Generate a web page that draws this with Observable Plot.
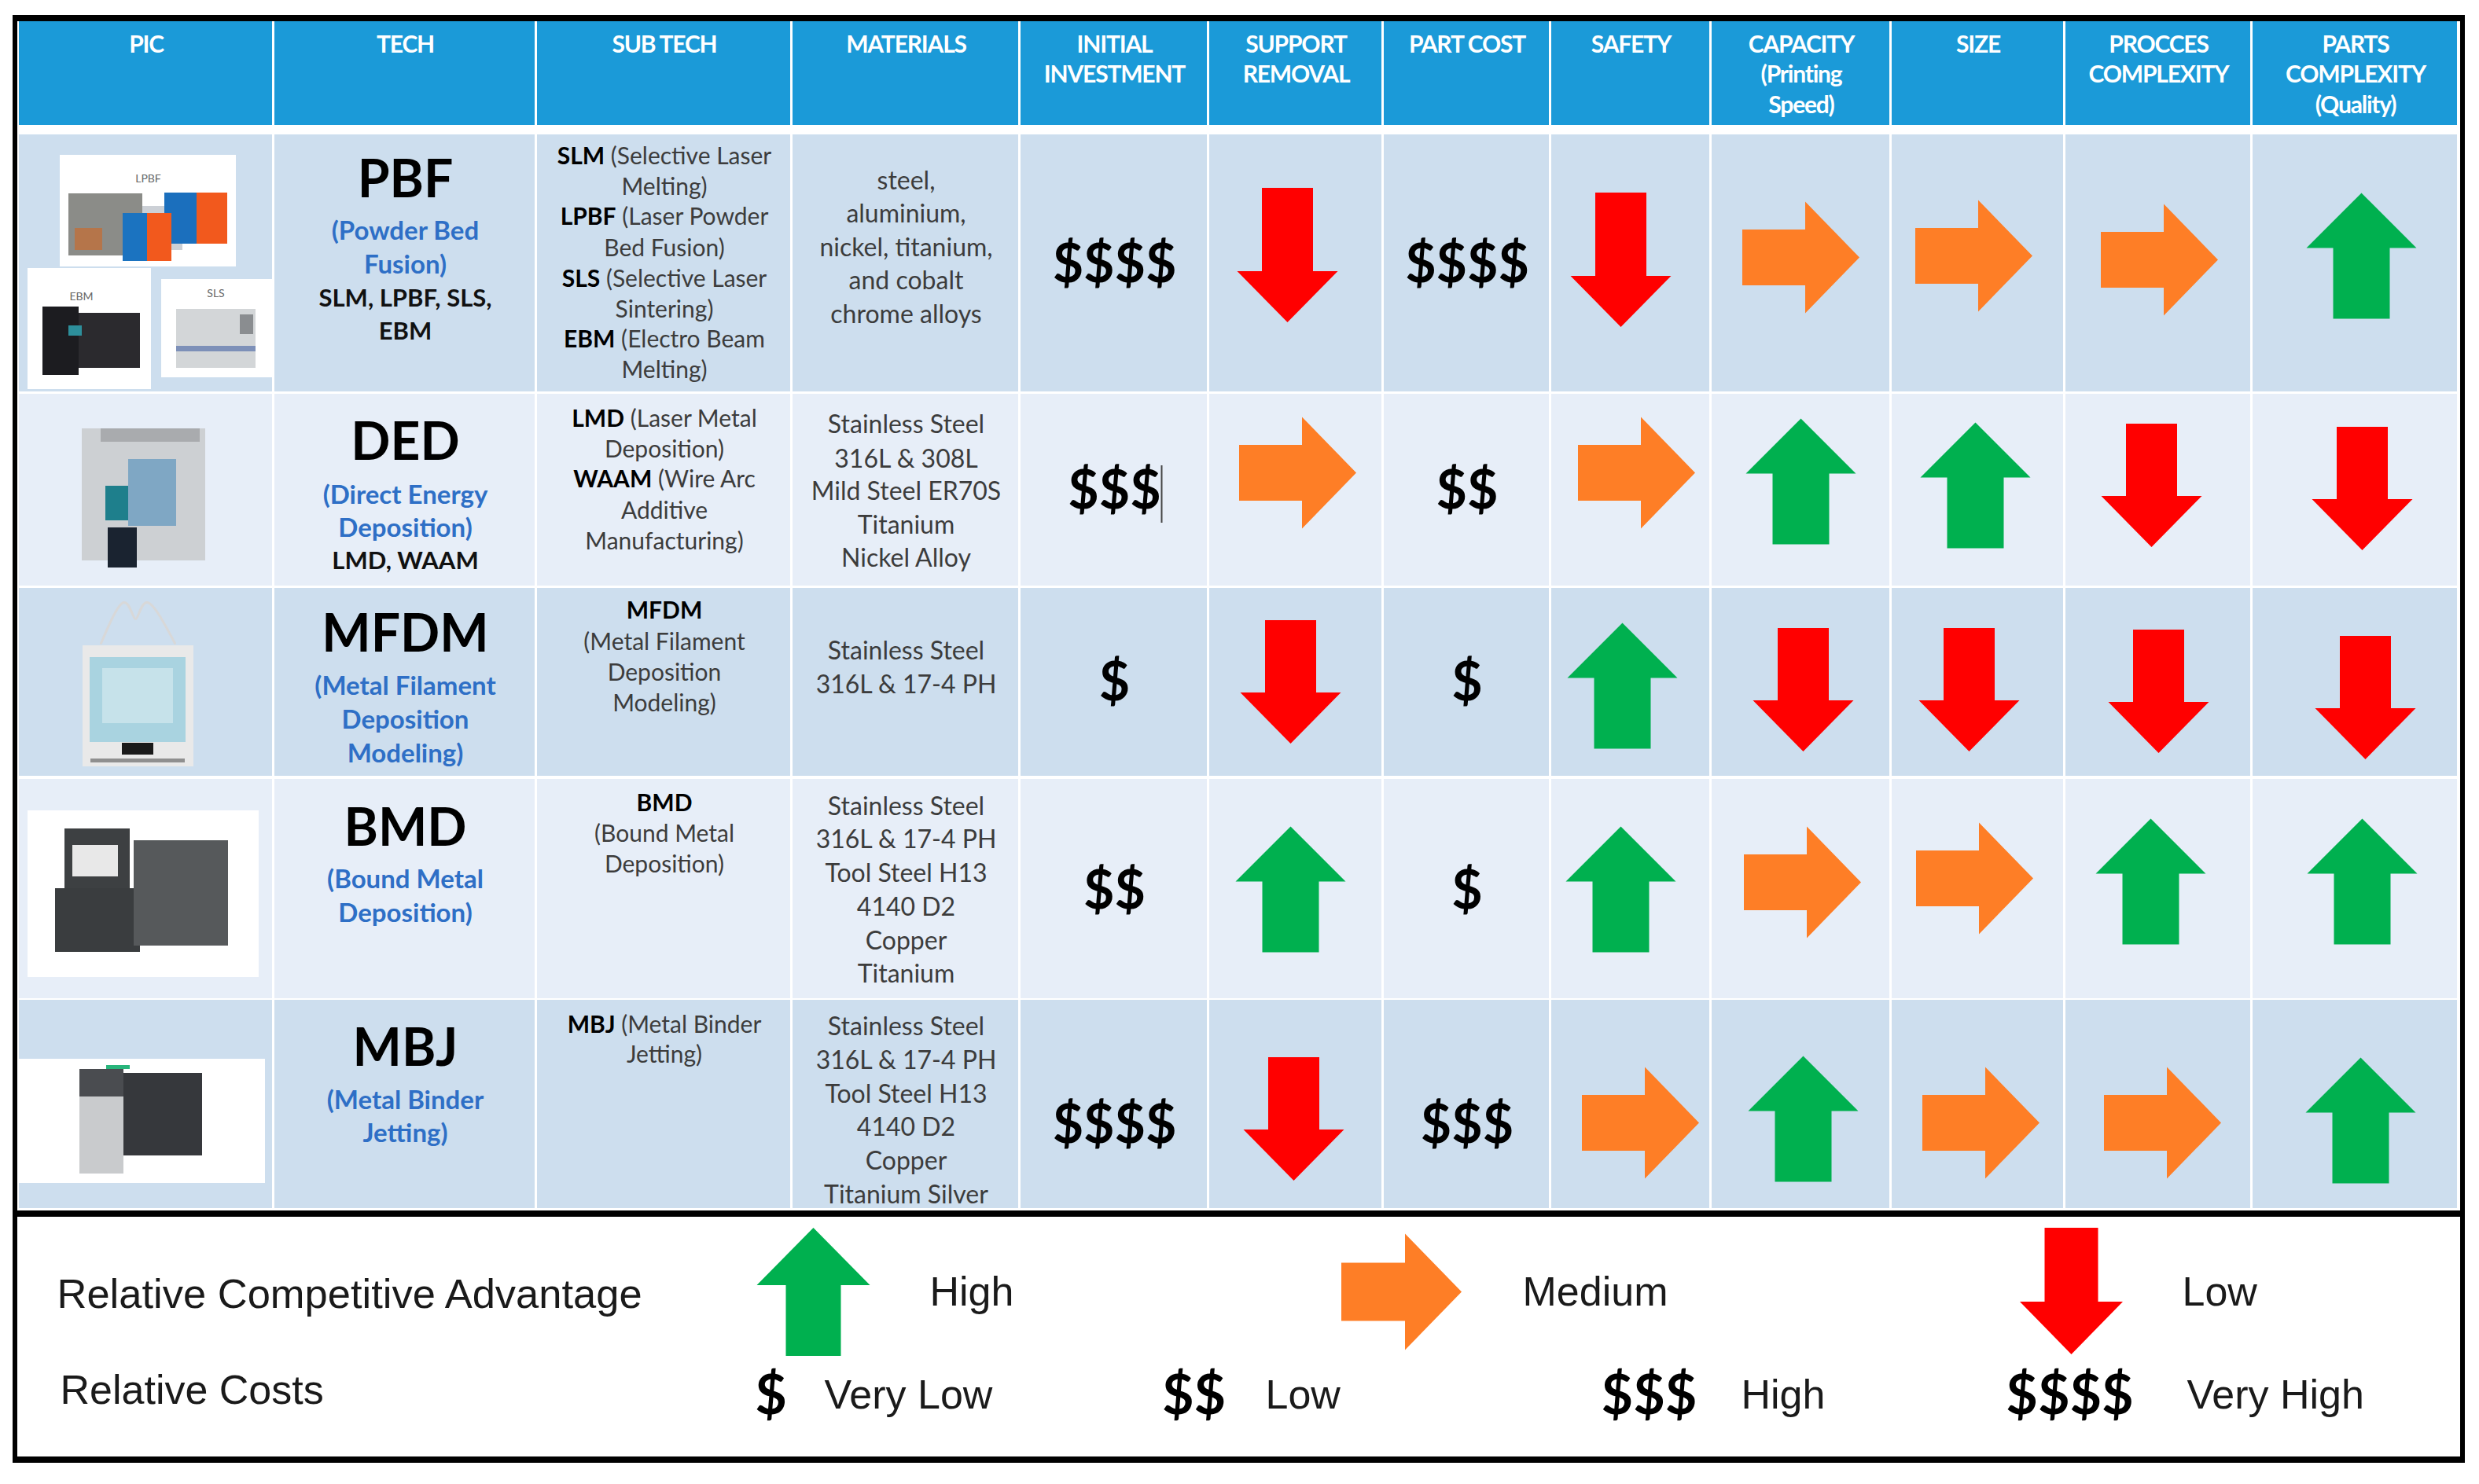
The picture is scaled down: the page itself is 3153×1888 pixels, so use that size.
<!DOCTYPE html>
<html>
<head>
<meta charset="utf-8">
<script src="https://cdn.jsdelivr.net/npm/d3@7"></script>
<script src="https://cdn.jsdelivr.net/npm/@observablehq/plot@0.6"></script>
<style>html,body{margin:0;padding:0;background:#fff;overflow:hidden}svg{display:block}.hdr text{letter-spacing:-1.2px}</style>
</head>
<body>
<div id="chart"></div>
<script>
// ---------- values ----------
const headers = [
  ["PIC"],["TECH"],["SUB TECH"],["MATERIALS"],["INITIAL","INVESTMENT"],["SUPPORT","REMOVAL"],["PART COST"],
  ["SAFETY"],["CAPACITY","(Printing","Speed)"],["SIZE"],["PROCCES","COMPLEXITY"],["PARTS","COMPLEXITY","(Quality)"]
];
const techs = ["PBF","DED","MFDM","BMD","MBJ"];
const techNames = [
  ["(Powder Bed","Fusion)"],["(Direct Energy","Deposition)"],["(Metal Filament","Deposition","Modeling)"],
  ["(Bound Metal","Deposition)"],["(Metal Binder","Jetting)"]
];
const techSubs = [["SLM, LPBF, SLS,","EBM"],["LMD, WAAM"],[],[],[]];
const subTech = [
  ["SLM (Selective Laser","Melting)","LPBF (Laser Powder","Bed Fusion)","SLS (Selective Laser","Sintering)","EBM (Electro Beam","Melting)"],
  ["LMD (Laser Metal","Deposition)","WAAM (Wire Arc","Additive","Manufacturing)"],
  ["MFDM","(Metal Filament","Deposition","Modeling)"],
  ["BMD","(Bound Metal","Deposition)"],
  ["MBJ (Metal Binder","Jetting)"]
];
const boldWords = ["SLM","LPBF","SLS","EBM","LMD","WAAM","MFDM","BMD","MBJ"];
const materials = [
  ["steel,","aluminium,","nickel, titanium,","and cobalt","chrome alloys"],
  ["Stainless Steel","316L & 308L","Mild Steel ER70S","Titanium","Nickel Alloy"],
  ["Stainless Steel","316L & 17-4 PH"],
  ["Stainless Steel","316L & 17-4 PH","Tool Steel H13","4140 D2","Copper","Titanium"],
  ["Stainless Steel","316L & 17-4 PH","Tool Steel H13","4140 D2","Copper","Titanium Silver"]
];
const initialInvestment = ["$$$$","$$$","$","$$","$$$$"];
const partCost = ["$$$$","$$","$","$","$$$"];
const supportRemoval = ["Low","Medium","Low","High","Low"];
const safety = ["Low","Medium","High","High","Medium"];
const capacity = ["Medium","High","Low","Medium","High"];
const size = ["Medium","High","Low","Medium","Medium"];
const processComplexity = ["Medium","Low","Low","High","Medium"];
const partsComplexity = ["High","Low","Low","High","High"];
const ratingColumns = [supportRemoval,safety,capacity,size,processComplexity,partsComplexity];
const legendRatings = ["High","Medium","Low"];
const legendCosts = [["$","Very Low"],["$$","Low"],["$$$","High"],["$$$$","Very High"]];

// ---------- layout of the table (separate from the values) ----------
const colEdges = [23,348,682,1007,1297,1537,1759,1972,2176,2405,2626,2864,3127];
const rowEdges = [[171,498],[501,745],[748,987],[991,1270],[1272,1537]];
const rowFills = ["#cddeee","#e7eef8","#cddeee","#e7eef8","#cddeee"];
const colCenter = i => (colEdges[i]+colEdges[i+1])/2;
const headerY = [57,95,134];
const techY = [229,563,807,1054,1334];
const techNameY = [[294,337],[630,672],[873,916,959],[1119,1162],[1400,1442]];
const techSubY = [[380,422],[714],[],[],[]];
const subY = [[199,238,276,316,355,394,432,471],[533,572,610,650,689],[777,817,856,895],[1022,1061,1100],[1304,1342]];
const matY = [[230,272,315,357,400],[540,584,625,668,710],[828,871],[1026,1068,1111,1154,1197,1239],[1306,1349,1392,1434,1477,1520]];
const costY = [337,625,869,1134,1432];
const arrowX = [
  [1637,2061,2290,2510,2746,3003],
  [1650,2081,2290,2512,2736,3004],
  [1641,2063,2293,2504,2745,3008],
  [1641,2061,2292,2511,2735,3004],
  [1645,2086,2293,2519,2750,3002]];
const arrowY = [
  [324,330,327,325,330,325],
  [601,601,612,617,617,621],
  [867,872,877,877,879,887],
  [1131,1131,1122,1117,1121,1121],
  [1423,1428,1423,1428,1428,1425]];
const colors = {High:"#00b04f",Medium:"#fe7e26",Low:"#ff0000"};

const arrowSymbol = (dir,w,h,shaft,head) => ({draw(c){
  const W=w/2,H=h/2,S=shaft/2;
  const pts = dir==="up" ? [[0,-H],[W,-H+head],[S,-H+head],[S,H],[-S,H],[-S,-H+head],[-W,-H+head]]
    : dir==="down" ? [[0,H],[W,H-head],[S,H-head],[S,-H],[-S,-H],[-S,H-head],[-W,H-head]]
    : [[W,0],[W-head,-H],[W-head,-S],[-W,-S],[-W,S],[W-head,S],[W-head,H]];
  pts.forEach((p,i)=> i? c.lineTo(p[0],p[1]) : c.moveTo(p[0],p[1]));
  c.closePath();
}});
const symbols = {
  High:arrowSymbol("up",140,160,72,70),
  Medium:arrowSymbol("right",149,142,71,69),
  Low:arrowSymbol("down",128,157,65,65),
  LowTall:arrowSymbol("down",128,171,65,65)
};

// ---------- tables built from the arrays ----------
const headerCells = colEdges.slice(0,-1).map((x,i)=>({x1:x+1,x2:colEdges[i+1]-2,y1:27,y2:159}));
const bodyCells = rowEdges.flatMap((r,j)=>colEdges.slice(0,-1).map((x,i)=>({x1:x+1,x2:colEdges[i+1]-2,y1:r[0],y2:r[1],fill:rowFills[j]})));
const headerLines = headers.flatMap((h,i)=>h.map((t,k)=>({t,x:colCenter(i),y:headerY[k]})));
const lines = (arr,ys,col)=>arr.flatMap((ls,j)=>ls.map((t,k)=>({t,x:colCenter(col),y:ys[j][k]})));
const techLines = techs.map((t,j)=>({t,x:colCenter(1),y:techY[j]}));
const costs = [[initialInvestment,4],[partCost,6]].flatMap(([a,c])=>a.map((t,j)=>({t,x:colCenter(c),y:costY[j]})));
const arrows = ratingColumns.flatMap((col,c)=>col.map((rating,j)=>({rating,tall:j===0&&rating==="Low",x:arrowX[j][c],y:arrowY[j][c]})));
const arrowMark = (key,filter)=>Plot.dot(arrows.filter(filter),{x:"x",y:"y",symbol:symbols[key],fill:colors[key.replace("Tall","")]});

// ---------- simplified machine pictures ----------
const picRects = [
  [76,197,300,339,"#fff"],[35,341,192,495,"#fff"],[205,355,346,480,"#fff"],
  [87,246,181,325,"#8b8c88"],[181,262,232,318,"#ccd0d6"],[95,290,130,318,"#b5754a"],
  [209,245,250,310,"#1b6fbd"],[250,245,289,310,"#f2591d"],[156,271,187,332,"#1b73c0"],[187,271,218,332,"#f2591d"],
  [54,390,100,477,"#1c1c20"],[100,398,178,468,"#2b2a2e"],[87,414,104,427,"#2d8f9b"],
  [224,393,325,468,"#d3d6d8"],[224,440,325,447,"#7d90b8"],[305,400,322,425,"#8a8d90"],
  [104,545,261,713,"#cdd0d3"],[128,545,254,562,"#a9abae"],[163,584,224,669,"#7fa7c4"],[134,618,163,662,"#1e7f8c"],[137,671,174,722,"#1a2330"],
  [105,821,246,975,"#e9e9e9"],[114,836,236,944,"#a9d3e0"],[130,850,220,920,"#c6e2ea"],[155,945,195,960,"#1a1a1a"],[115,965,235,970,"#8f8f8f"],
  [35,1031,329,1243,"#fff"],[70,1130,178,1211,"#3a3d3f"],[82,1054,165,1130,"#3d4042"],[92,1075,150,1115,"#e8e8e8"],[170,1069,290,1203,"#56595b"],
  [23,1347,337,1505,"#fff"],[101,1360,157,1493,"#c9cbcd"],[157,1365,257,1470,"#36383c"],[101,1360,157,1395,"#4a4c50"],[135,1355,165,1360,"#28b57b"]
].map(([x1,y1,x2,y2,fill])=>({x1,y1,x2,y2,fill}));
const picLabels = [{t:"LPBF",x:188,y:227},{t:"EBM",x:103,y:377},{t:"SLS",x:274,y:373}];
const tubes = [[128,818],[157,766],[172,787],[187,766],[222,818]].map(([x,y])=>({x,y}));

// ---------- frame lines ----------
const frame = [[16,19,3135,27],[16,19,22,1861],[3129,19,3135,1861],[16,1540,3135,1548],[16,1853,3135,1861]].map(([x1,y1,x2,y2])=>({x1,y1,x2,y2}));

// ---------- legend ----------
const legArrows = [
  {x:1034,y:1643,s:arrowSymbol("up",144,163,70,73),lx:1182},
  {x:1782,y:1643,s:arrowSymbol("right",153,148,74,72),lx:1936},
  {x:2634,y:1642,s:arrowSymbol("down",131,161,68,67),lx:2775}
];
legArrows.forEach((d,i)=>d.r=legendRatings[i]);
const legCostPos = [[980,1048],[1518,1609],[2097,2214],[2632,2781]];
const legCostData = legendCosts.map(([c,l],i)=>({c,l,cx:legCostPos[i][0],lx:legCostPos[i][1]}));

const sans = "Lato, Carlito, sans-serif";
const arial = "'Liberation Sans', Arial, sans-serif";
const txt = (data,opts)=>Plot.text(data,{text:"t",x:"x",y:"y",fontFamily:sans,textAnchor:"middle",lineAnchor:"middle",...opts});

const plot = Plot.plot({
  width:3153,height:1888,margin:0,
  style:{background:"#fff",overflow:"visible"},
  x:{domain:[0,3153],range:[0,3153],axis:null},
  y:{domain:[0,1888],range:[0,1888],axis:null},
  marks:[
    Plot.rect(headerCells,{x1:"x1",x2:"x2",y1:"y1",y2:"y2",fill:"#1b9ad8"}),
    Plot.rect(bodyCells,{x1:"x1",x2:"x2",y1:"y1",y2:"y2",fill:"fill"}),
    Plot.rect(picRects,{x1:"x1",x2:"x2",y1:"y1",y2:"y2",fill:"fill"}),
    Plot.line(tubes,{x:"x",y:"y",curve:"natural",stroke:"#d8d8d8",strokeWidth:3}),
    txt(picLabels,{fontSize:14,fill:"#666"}),
    Plot.rect(frame,{x1:"x1",x2:"x2",y1:"y1",y2:"y2",fill:"#000"}),
    txt(headerLines,{fontSize:30,fontWeight:700,fill:"#fff",className:"hdr"}),
    txt(techLines,{fontSize:66,fontWeight:700,fill:"#000"}),
    txt(lines(techNames,techNameY,1),{fontSize:33,fontWeight:700,fill:"#2e6fc6"}),
    txt(lines(techSubs,techSubY,1),{fontSize:31,fontWeight:700,fill:"#111"}),
    txt(lines(subTech,subY,2),{fontSize:30,fill:"#3c3c3c",className:"subtech"}),
    txt(lines(materials,matY,3),{fontSize:32,fill:"#3c3c3c"}),
    txt(costs,{fontSize:68,fontWeight:700,fill:"#000"}),
    Plot.ruleX([1477],{y1:592,y2:665,stroke:"#444",strokeWidth:2}),
    arrowMark("High",d=>d.rating==="High"),
    arrowMark("Medium",d=>d.rating==="Medium"),
    arrowMark("Low",d=>d.rating==="Low"&&!d.tall),
    arrowMark("LowTall",d=>d.tall),
    ...legArrows.map(d=>Plot.dot([d],{x:"x",y:"y",symbol:d.s,fill:colors[d.r]})),
    Plot.text(["Relative Competitive Advantage"],{x:()=>72,y:()=>1647,text:d=>d,fontFamily:arial,fontSize:52.5,fill:"#1a1a1a",textAnchor:"start",lineAnchor:"middle"}),
    Plot.text(["Relative Costs"],{x:()=>76,y:()=>1769,text:d=>d,fontFamily:arial,fontSize:52,fill:"#1a1a1a",textAnchor:"start",lineAnchor:"middle"}),
    Plot.text(legArrows,{x:"lx",y:()=>1644,text:"r",fontFamily:arial,fontSize:52,fill:"#1a1a1a",textAnchor:"start",lineAnchor:"middle"}),
    Plot.text(legCostData,{x:"cx",y:()=>1776,text:"c",fontFamily:sans,fontWeight:700,fontSize:70,fill:"#000",textAnchor:"middle",lineAnchor:"middle"}),
    Plot.text(legCostData,{x:"lx",y:()=>1775,text:"l",fontFamily:arial,fontSize:52,fill:"#1a1a1a",textAnchor:"start",lineAnchor:"middle"})
  ]
});
// bold lead words inside the sub-tech lines stay real text, split into tspans
d3.select(plot).selectAll(".subtech text").each(function(){
  const s=this.textContent, w=s.split(" ")[0];
  if(!boldWords.includes(w)) return;
  this.textContent="";
  const a=document.createElementNS("http://www.w3.org/2000/svg","tspan");
  a.textContent=w;a.setAttribute("font-weight","700");a.setAttribute("fill","#000");this.appendChild(a);
  if(s.length>w.length){const b=document.createElementNS("http://www.w3.org/2000/svg","tspan");b.textContent=s.slice(w.length);this.appendChild(b);}
});
document.getElementById("chart").appendChild(plot);
</script>
</body>
</html>
